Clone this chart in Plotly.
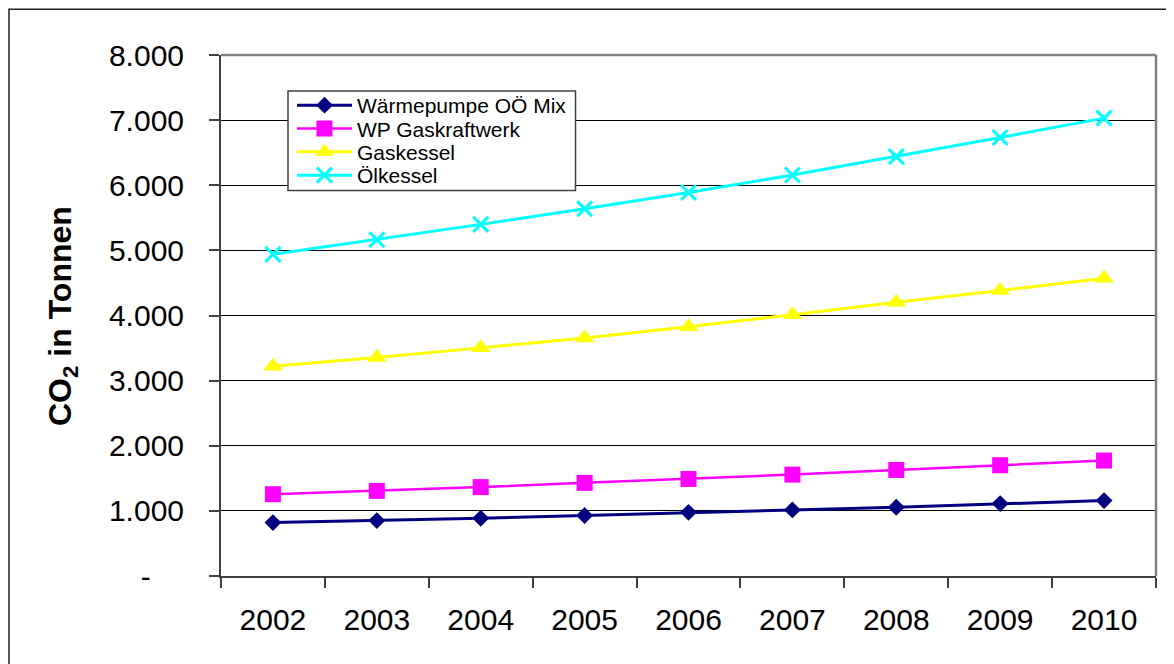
import plotly.graph_objects as go

years = ["2002", "2003", "2004", "2005", "2006", "2007", "2008", "2009", "2010"]
waermepumpe = [820, 851, 887, 928, 977, 1015, 1055, 1112, 1158]
wp_gaskraftwerk = [1256, 1307, 1365, 1430, 1489, 1557, 1629, 1701, 1773]
gaskessel = [3222, 3356, 3503, 3656, 3828, 4010, 4205, 4383, 4573]
oelkessel = [4939, 5164, 5399, 5640, 5889, 6157, 6440, 6733, 7031]

series_names = ["Wärmepumpe OÖ Mix", "WP Gaskraftwerk", "Gaskessel", "Ölkessel"]
y_tick_vals = [0, 1000, 2000, 3000, 4000, 5000, 6000, 7000, 8000]
y_tick_labels = ["-\u00a0\u00a0\u00a0\u00a0", "1.000", "2.000", "3.000", "4.000",
                 "5.000", "6.000", "7.000", "8.000"]
y_title = "CO<sub>2</sub> in Tonnen"

FONT = "Liberation Sans, Arial, sans-serif"

# plot-area geometry (pixels in the figure)
PL, PT, PW, PH = 213, 47, 935, 521
W, H = 1166, 656


def px(xp):  # figure pixel x -> paper
    return (xp - PL) / PW


def py(yp):  # figure pixel y -> paper
    return (PT + PH - yp) / PH


fig = go.Figure()
styles = [
    dict(color="#000080", symbol="diamond", size=13, lw=3, mlw=0),
    dict(color="#FF00FF", symbol="square", size=16, lw=2.5, mlw=0),
    dict(color="#FFFF00", symbol="triangle-up", size=17, lw=3, mlw=0),
    dict(color="#00FFFF", symbol="x-thin", size=15, lw=3, mlw=3),
]
legend_ids = ["legend", "legend2", "legend3", "legend4"]
for name, vals, st, lid in zip(series_names, [waermepumpe, wp_gaskraftwerk, gaskessel, oelkessel],
                               styles, legend_ids):
    fig.add_trace(go.Scatter(
        x=years, y=vals, name=name, mode="lines+markers", legend=lid,
        line=dict(color=st["color"], width=st["lw"]),
        marker=dict(symbol=st["symbol"], size=st["size"], color=st["color"],
                    line=dict(color=st["color"], width=st["mlw"])),
        hoverinfo="skip",
    ))

row_centers = [97.5, 120.8, 144.2, 167.5]
legend_common = dict(xanchor="left", yanchor="middle", bgcolor="rgba(0,0,0,0)",
                     borderwidth=0, font=dict(family=FONT, size=21, color="black"),
                     itemwidth=55)
legend_layout = {}
for lid, yc in zip(legend_ids, row_centers):
    legend_layout[lid] = dict(x=px(284), y=py(yc), **legend_common)

fig.update_layout(
    width=W, height=H,
    margin=dict(l=PL, r=W - PL - PW, t=PT, b=H - PT - PH),
    paper_bgcolor="white", plot_bgcolor="white",
    font=dict(family=FONT, color="black"),
    showlegend=True,
    xaxis=dict(
        type="category", range=[-0.5, 8.5],
        showgrid=False, showline=True, linecolor="#404040", linewidth=2,
        ticks="outside", tickson="boundaries", ticklen=10, tickwidth=1.5, tickcolor="#404040",
        tickfont=dict(family=FONT, size=30, color="black"),
        ticklabelstandoff=16,
        zeroline=False,
    ),
    yaxis=dict(
        range=[0, 8000], tickvals=y_tick_vals, ticktext=y_tick_labels,
        showgrid=True, gridcolor="black", gridwidth=1,
        showline=True, linecolor="#404040", linewidth=2,
        ticks="outside", ticklen=10, tickwidth=1.5, tickcolor="#404040",
        tickfont=dict(family=FONT, size=30, color="black"),
        ticklabelstandoff=19,
        zeroline=False,
    ),
    shapes=[
        # plot area top and right border (gray)
        dict(type="line", xref="paper", yref="paper", x0=0, x1=1, y0=1, y1=1,
             line=dict(color="#808080", width=2.5)),
        dict(type="line", xref="paper", yref="paper", x0=1, x1=1, y0=0, y1=1,
             line=dict(color="#808080", width=2.5)),
        # outer chart border
        dict(type="rect", xref="paper", yref="paper",
             x0=px(1), x1=1.05, y0=-0.3, y1=py(1.3),
             line=dict(color="#222222", width=1.5)),
        # legend box
        dict(type="rect", xref="paper", yref="paper", layer="above",
             x0=px(280), x1=px(567.5), y0=py(182.5), y1=py(83),
             fillcolor="white", line=dict(color="#404040", width=1.5)),
    ],
    annotations=[
        dict(text="<b>" + y_title + "</b>", xref="paper", yref="paper",
             x=px(54), y=py(308), xanchor="center", yanchor="middle",
             textangle=-90, showarrow=False,
             font=dict(family=FONT, size=32, color="black")),
    ],
    **legend_layout,
)

fig.write_html("out.html")
